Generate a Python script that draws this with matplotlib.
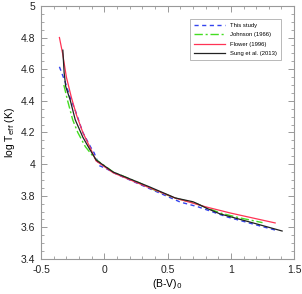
import matplotlib
matplotlib.use("Agg")
import matplotlib.pyplot as plt
from matplotlib.ticker import MultipleLocator

plt.rcParams['font.family'] = ['Liberation Sans', 'DejaVu Sans']

# This study
bv_this = [-0.355, -0.31, -0.27, -0.23, -0.17, -0.11, -0.08, -0.06, -0.04, 0.006, 0.10, 0.30, 0.60, 0.74, 0.97, 1.18, 1.35]
lt_this = [4.615, 4.52, 4.42, 4.34, 4.20, 4.11, 4.07, 4.03, 3.99, 3.975, 3.935, 3.865, 3.76, 3.73, 3.666, 3.62, 3.583]

# Johnson (1966)
bv_john = [-0.32, -0.29, -0.25, -0.21, -0.15, -0.10, -0.06, 0.07, 0.28, 0.385, 0.56, 0.72, 0.82, 0.92, 1.07, 1.25]
lt_john = [4.50, 4.40, 4.28, 4.20, 4.11, 4.06, 4.025, 3.95, 3.88, 3.84, 3.785, 3.752, 3.72, 3.69, 3.66, 3.63]

# Flower (1996)
bv_flow = [-0.355, -0.33, -0.30, -0.26, -0.22, -0.17, -0.11, -0.065, 0.07, 0.28, 0.56, 0.80, 1.00, 1.35]
lt_flow = [4.80, 4.70, 4.55, 4.42, 4.31, 4.20, 4.10, 4.02, 3.945, 3.875, 3.785, 3.73, 3.69, 3.628]

# Sung et al. (2013)
bv_sung = [-0.328, -0.318, -0.305, -0.27, -0.23, -0.17, -0.12, -0.065, 0.069, 0.283, 0.36, 0.56, 0.70, 0.74, 0.81, 0.915, 1.176, 1.405]
lt_sung = [4.72, 4.58, 4.49, 4.405, 4.28, 4.17, 4.10, 4.026, 3.95, 3.88, 3.855, 3.786, 3.762, 3.748, 3.72, 3.685, 3.628, 3.577]

fig = plt.figure(figsize=(3.02, 2.94), dpi=100)
ax = fig.add_axes([0.136, 0.119, 0.838, 0.861])

ax.plot(bv_this, lt_this, color='#3344ee', lw=1.0, ls=(0, (3, 2.5)), label='This study')
ax.plot(bv_john, lt_john, color='#44dd22', lw=1.0, ls=(0, (6, 2, 1.5, 2)), label='Johnson (1966)')
ax.plot(bv_flow, lt_flow, color='#ff3355', lw=0.9, label='Flower (1996)')
ax.plot(bv_sung, lt_sung, color='#222222', lw=0.9, label='Sung et al. (2013)')

ax.set_xlim(-0.5, 1.5)
ax.set_ylim(3.4, 5.0)
ax.xaxis.set_major_locator(MultipleLocator(0.5))
ax.xaxis.set_minor_locator(MultipleLocator(0.1))
ax.yaxis.set_major_locator(MultipleLocator(0.2))
ax.yaxis.set_minor_locator(MultipleLocator(0.05))
ax.xaxis.set_major_formatter(plt.FuncFormatter(lambda v, p: ('%g' % round(v, 2))))
ax.yaxis.set_major_formatter(plt.FuncFormatter(lambda v, p: ('%g' % round(v, 2))))

grey = '#999999'
for s in ax.spines.values():
    s.set_color(grey)
    s.set_linewidth(0.8)
ax.tick_params(which='both', direction='in', top=True, right=True, color=grey, labelsize=7.5, labelcolor='#222222')
ax.tick_params(which='major', length=4, width=0.7, pad=4)
ax.tick_params(which='minor', length=2, width=0.6)

ax.set_xlabel('(B-V)$_0$', fontsize=7.5, labelpad=2)
ax.set_ylabel('log T$_{\\rm eff}$ (K)', fontsize=7.5, labelpad=3)

leg = ax.legend(loc='upper right', fontsize=4.2, frameon=True, fancybox=False,
                edgecolor=grey, handlelength=5.3, handletextpad=1.0, borderaxespad=2.2,
                labelspacing=0.75, borderpad=0.7)
leg.get_frame().set_linewidth(0.6)

fig.savefig('out.png', dpi=100)
